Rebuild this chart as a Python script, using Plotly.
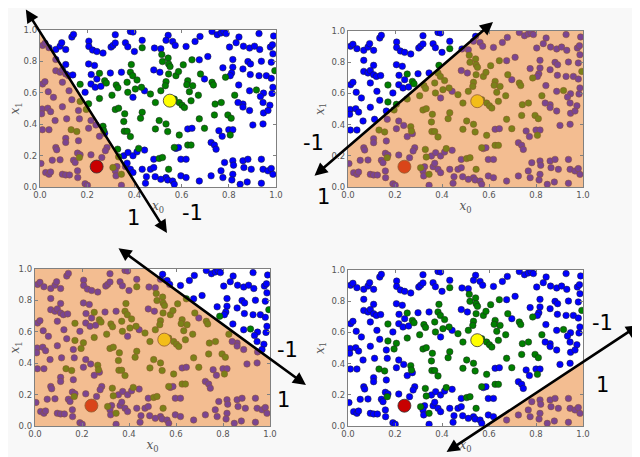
import plotly.graph_objects as go

# ---------------- data ----------------
blue_x0 = [0.135, 0.142, 0.207, 0.319, 0.383, 0.394, 0.011, 0.021, 0.038, 0.067, 0.085, 0.092, 0.109,
           0.207, 0.223, 0.241, 0.267, 0.301, 0.309, 0.319, 0.362, 0.372, 0.400, 0.433, 0.067, 0.206,
           0.231, 0.109, 0.067, 0.085, 0.095, 0.109, 0.121, 0.139, 0.217, 0.298, 0.345, 0.482, 0.011,
           0.021, 0.095, 0.216, 0.234, 0.258, 0.241, 0.443, 0.035, 0.123, 0.191, 0.057, 0.135, 0.394,
           0.095, 0.009, 0.033,
           0.729, 0.751, 0.767, 0.779, 0.789, 0.843, 0.928, 0.990, 0.543, 0.534, 0.562, 0.573, 0.619,
           0.657, 0.678, 0.803, 0.831, 0.862, 0.888, 0.909, 0.931, 0.976, 0.985, 0.987, 0.512, 0.485,
           0.675, 0.711, 0.817, 0.817, 0.881, 0.892, 0.938, 0.980, 0.775, 0.812, 0.806, 0.860, 0.891,
           0.928, 0.959, 0.980, 0.697, 0.842, 0.888, 0.947, 0.983, 0.934, 0.987, 0.860, 0.839, 0.945,
           0.974, 0.508,
           0.045, 0.007, 0.064, 0.010, 0.038, 0.109, 0.109, 0.067, 0.071, 0.052, 0.085, 0.004, 0.024,
           0.038, 0.045, 0.095, 0.109, 0.125, 0.163, 0.113, 0.167, 0.206, 0.237, 0.216, 0.252, 0.274,
           0.163, 0.159, 0.170, 0.142, 0.149, 0.216, 0.159, 0.160, 0.191, 0.201, 0.284, 0.277, 0.262,
           0.355, 0.373, 0.394, 0.411, 0.443, 0.326, 0.319, 0.322, 0.345, 0.362, 0.369, 0.383, 0.394,
           0.433, 0.451, 0.447, 0.468, 0.482, 0.482,
           0.860, 0.888, 0.947, 0.966, 0.902, 0.945, 0.626, 0.644, 0.758, 0.772, 0.800, 0.817, 0.725,
           0.739, 0.746, 0.576, 0.587, 0.597, 0.619, 0.534, 0.512, 0.541, 0.562, 0.597, 0.619, 0.569,
           0.488, 0.782, 0.817, 0.820, 0.767, 0.725, 0.775, 0.817, 0.848, 0.878, 0.860, 0.881, 0.864,
           0.895, 0.938, 0.945, 0.966, 0.980, 0.987, 0.938, 0.675, 0.813]
blue_x1 = [0.955, 0.972, 0.929, 0.970, 0.991, 0.987, 0.902, 0.915, 0.887, 0.876, 0.897, 0.919, 0.876,
           0.895, 0.872, 0.863, 0.853, 0.891, 0.902, 0.917, 0.919, 0.893, 0.863, 0.934, 0.812, 0.784,
           0.774, 0.780, 0.741, 0.731, 0.746, 0.720, 0.709, 0.714, 0.716, 0.726, 0.731, 0.746, 0.656,
           0.671, 0.667, 0.656, 0.635, 0.641, 0.688, 0.613, 0.607, 0.613, 0.603, 0.571, 0.556, 0.571,
           0.511, 0.497, 0.502,
           0.990, 0.970, 0.981, 0.990, 0.977, 0.955, 0.977, 0.962, 0.966, 0.934, 0.927, 0.902, 0.895,
           0.927, 0.959, 0.891, 0.919, 0.897, 0.885, 0.897, 0.876, 0.891, 0.906, 0.848, 0.880, 0.885,
           0.810, 0.831, 0.812, 0.763, 0.799, 0.784, 0.801, 0.795, 0.759, 0.726, 0.709, 0.752, 0.716,
           0.709, 0.709, 0.692, 0.688, 0.650, 0.613, 0.598, 0.596, 0.577, 0.635, 0.528, 0.538, 0.538,
           0.521, 0.731,
           0.480, 0.466, 0.423, 0.365, 0.365, 0.310, 0.284, 0.252, 0.237, 0.171, 0.173, 0.150, 0.092,
           0.081, 0.096, 0.081, 0.077, 0.077, 0.487, 0.434, 0.434, 0.374, 0.395, 0.423, 0.323, 0.342,
           0.295, 0.216, 0.205, 0.171, 0.156, 0.205, 0.103, 0.060, 0.021, 0.011, 0.252, 0.231, 0.188,
           0.199, 0.220, 0.199, 0.224, 0.235, 0.130, 0.103, 0.071, 0.011, 0.130, 0.152, 0.113, 0.092,
           0.113, 0.066, 0.024, 0.113, 0.124, 0.177,
           0.509, 0.487, 0.472, 0.487, 0.395, 0.402, 0.370, 0.374, 0.359, 0.323, 0.365, 0.365, 0.284,
           0.267, 0.241, 0.246, 0.252, 0.177, 0.177, 0.060, 0.049, 0.045, 0.038, 0.071, 0.060, 0.017,
           0.066, 0.156, 0.167, 0.139, 0.103, 0.071, 0.060, 0.081, 0.017, 0.032, 0.167, 0.177, 0.124,
           0.113, 0.177, 0.113, 0.103, 0.118, 0.081, 0.024, 0.038, 0.045]

green_x0 = [0.433, 0.387, 0.252, 0.383, 0.393, 0.170, 0.274, 0.281, 0.323, 0.330, 0.369, 0.411, 0.430,
            0.404, 0.252, 0.305, 0.372, 0.468, 0.170, 0.206, 0.489,
            0.516, 0.519, 0.543, 0.545, 0.551, 0.545, 0.576, 0.587, 0.607, 0.644, 0.680, 0.626, 0.622,
            0.647, 0.633, 0.534, 0.531, 0.512, 0.671, 0.729, 0.735, 0.786, 0.825, 0.917, 0.995, 0.742,
            0.768, 0.640, 0.569, 0.590, 0.602, 0.612,
            0.196, 0.132, 0.156, 0.267, 0.270, 0.319, 0.333, 0.359, 0.355, 0.433, 0.426, 0.357, 0.369,
            0.383, 0.489, 0.329, 0.333, 0.309, 0.345, 0.418, 0.167,
            0.505, 0.534, 0.541, 0.590, 0.675, 0.697, 0.739, 0.796, 0.810, 0.806, 0.505, 0.519, 0.545,
            0.626, 0.640, 0.569]
green_x1 = [0.887, 0.780, 0.724, 0.731, 0.709, 0.654, 0.677, 0.662, 0.650, 0.632, 0.667, 0.682, 0.635,
            0.624, 0.564, 0.585, 0.603, 0.592, 0.545, 0.530, 0.538,
            0.844, 0.799, 0.821, 0.784, 0.767, 0.720, 0.709, 0.735, 0.778, 0.810, 0.720, 0.677, 0.652,
            0.645, 0.607, 0.671, 0.645, 0.613, 0.585, 0.667, 0.650, 0.699, 0.585, 0.618, 0.741, 0.528,
            0.538, 0.549, 0.560, 0.538, 0.521, 0.506,
            0.494, 0.365, 0.353, 0.387, 0.359, 0.494, 0.502, 0.466, 0.417, 0.476, 0.438, 0.355, 0.355,
            0.321, 0.370, 0.241, 0.192, 0.124, 0.081, 0.246, 0.188,
            0.423, 0.402, 0.353, 0.331, 0.434, 0.374, 0.459, 0.459, 0.438, 0.331, 0.182, 0.188, 0.113,
            0.267, 0.267, 0.252]

red_point = [0.24, 0.13]
yellow_point = [0.55, 0.55]

# separating lines  x1 = slope * x0 + intercept  (orange side: below the line)
line_slopes = [-2.39, 1.298, -1.093, 0.988]
line_intercepts = [0.993, 0.257, 1.521, -0.581]
# extent of each drawn arrow along x0
arrow_x_from = [-0.064, -0.149, 0.349, 0.413]
arrow_x_to = [0.538, 0.617, 1.153, 1.243]
red_above_fill = [True, False, False, False]

tick_vals = [0.0, 0.2, 0.4, 0.6, 0.8, 1.0]
tick_text = ["0.0", "0.2", "0.4", "0.6", "0.8", "1.0"]

# ---------------- layout geometry (window pixels) ----------------
WIN_W, WIN_H = 640, 457
OFF = 8                      # page body margin around the figure
W, H = WIN_W - OFF, WIN_H - OFF
panels_px = [(40, 276, 30, 187), (348, 583, 31, 187), (35, 270, 269, 426), (348, 583, 270, 426)]
labels_px = [[("1", 133, 218), ("-1", 192, 213)],
             [("-1", 313, 143), ("1", 323, 197)],
             [("-1", 287, 350), ("1", 283, 400)],
             [("-1", 602, 323), ("1", 602, 385)]]

ORANGE = "rgba(232,130,47,0.53)"


def fx(px):
    return (px - OFF) / W


def fy(py):
    return 1 - (py - OFF) / H


def clip_square(m, c):
    square = [(0, 0), (1, 0), (1, 1), (0, 1)]
    f = lambda p: m * p[0] + c - p[1]
    out = []
    for i in range(len(square)):
        p, q = square[i], square[(i + 1) % len(square)]
        fp, fq = f(p), f(q)
        if fp >= 0:
            out.append(p)
        if (fp >= 0) != (fq >= 0):
            t = fp / (fp - fq)
            out.append((p[0] + t * (q[0] - p[0]), p[1] + t * (q[1] - p[1])))
    return out


fig = go.Figure()
annotations = []
for k in range(4):
    xr = "x" if k == 0 else f"x{k+1}"
    yr = "y" if k == 0 else f"y{k+1}"
    m, c = line_slopes[k], line_intercepts[k]
    x0p, x1p, y0p, y1p = panels_px[k]
    small = dict(size=6.5, line=dict(width=0.5, color="#222"))
    fig.add_trace(go.Scatter(x=blue_x0, y=blue_x1, mode="markers", xaxis=xr, yaxis=yr,
                             marker=dict(color="#0000ff", **small), hoverinfo="skip", showlegend=False))
    fig.add_trace(go.Scatter(x=green_x0, y=green_x1, mode="markers", xaxis=xr, yaxis=yr,
                             marker=dict(color="#008000", **small), hoverinfo="skip", showlegend=False))
    big = go.Scatter(x=[red_point[0], yellow_point[0]], y=[red_point[1], yellow_point[1]],
                     mode="markers", xaxis=xr, yaxis=yr, hoverinfo="skip", showlegend=False,
                     marker=dict(size=13, color=["#c80000", "#ffff00"], line=dict(width=0.8, color="#333")))
    poly = clip_square(m, c)
    fill = go.Scatter(x=[p[0] for p in poly] + [poly[0][0]], y=[p[1] for p in poly] + [poly[0][1]],
                      mode="lines", fill="toself", fillcolor=ORANGE, line=dict(width=0),
                      xaxis=xr, yaxis=yr, hoverinfo="skip", showlegend=False)
    if red_above_fill[k]:
        fig.add_trace(fill)
        fig.add_trace(big)
    else:
        fig.add_trace(big)
        fig.add_trace(fill)

    # arrow along the separating line (head in paper coords, tail as pixel offset)
    def to_px(xd, yd):
        return x0p + xd * (x1p - x0p), y1p - yd * (y1p - y0p)
    xa, xb = arrow_x_from[k], arrow_x_to[k]
    hpx, hpy = to_px(xb, m * xb + c)
    tpx, tpy = to_px(xa, m * xa + c)
    annotations.append(dict(x=fx(hpx), y=fy(hpy), xref="paper", yref="paper",
                            ax=tpx - hpx, ay=tpy - hpy, axref="pixel", ayref="pixel",
                            text="", showarrow=True, arrowside="end+start", arrowhead=2,
                            arrowsize=1, arrowwidth=2.6, arrowcolor="black",
                            standoff=0, startstandoff=0))
    for txt, px, py in labels_px[k]:
        annotations.append(dict(x=fx(px), y=fy(py), xref="paper", yref="paper", text=txt,
                                showarrow=False, xanchor="center", yanchor="middle",
                                font=dict(family="DejaVu Sans", size=21, color="black")))

    axis_common = dict(range=[0, 1], tickvals=tick_vals, ticktext=tick_text, showgrid=False,
                       zeroline=False, showline=True, linecolor="#808080", linewidth=1.3,
                       mirror="ticks", ticks="inside", ticklen=3, tickcolor="#808080",
                       automargin=False,
                       tickfont=dict(family="DejaVu Sans", size=8.5, color="#555"))
    fig.update_layout(**{
        ("xaxis" if k == 0 else f"xaxis{k+1}"): dict(
            domain=[fx(x0p), fx(x1p)], anchor=yr,
            title=dict(text="<i>x</i><sub>0</sub>", standoff=2,
                       font=dict(family="DejaVu Serif", size=12, color="#555")), **axis_common),
        ("yaxis" if k == 0 else f"yaxis{k+1}"): dict(
            domain=[fy(y1p), fy(y0p)], anchor=xr,
            title=dict(text="<i>x</i><sub>1</sub>", standoff=4,
                       font=dict(family="DejaVu Serif", size=12, color="#555")), **axis_common),
    })

fig.update_layout(width=W, height=H, margin=dict(l=0, r=0, t=0, b=0),
                  paper_bgcolor="#f8f8f8", plot_bgcolor="white", annotations=annotations)
fig.write_html("out.html")
